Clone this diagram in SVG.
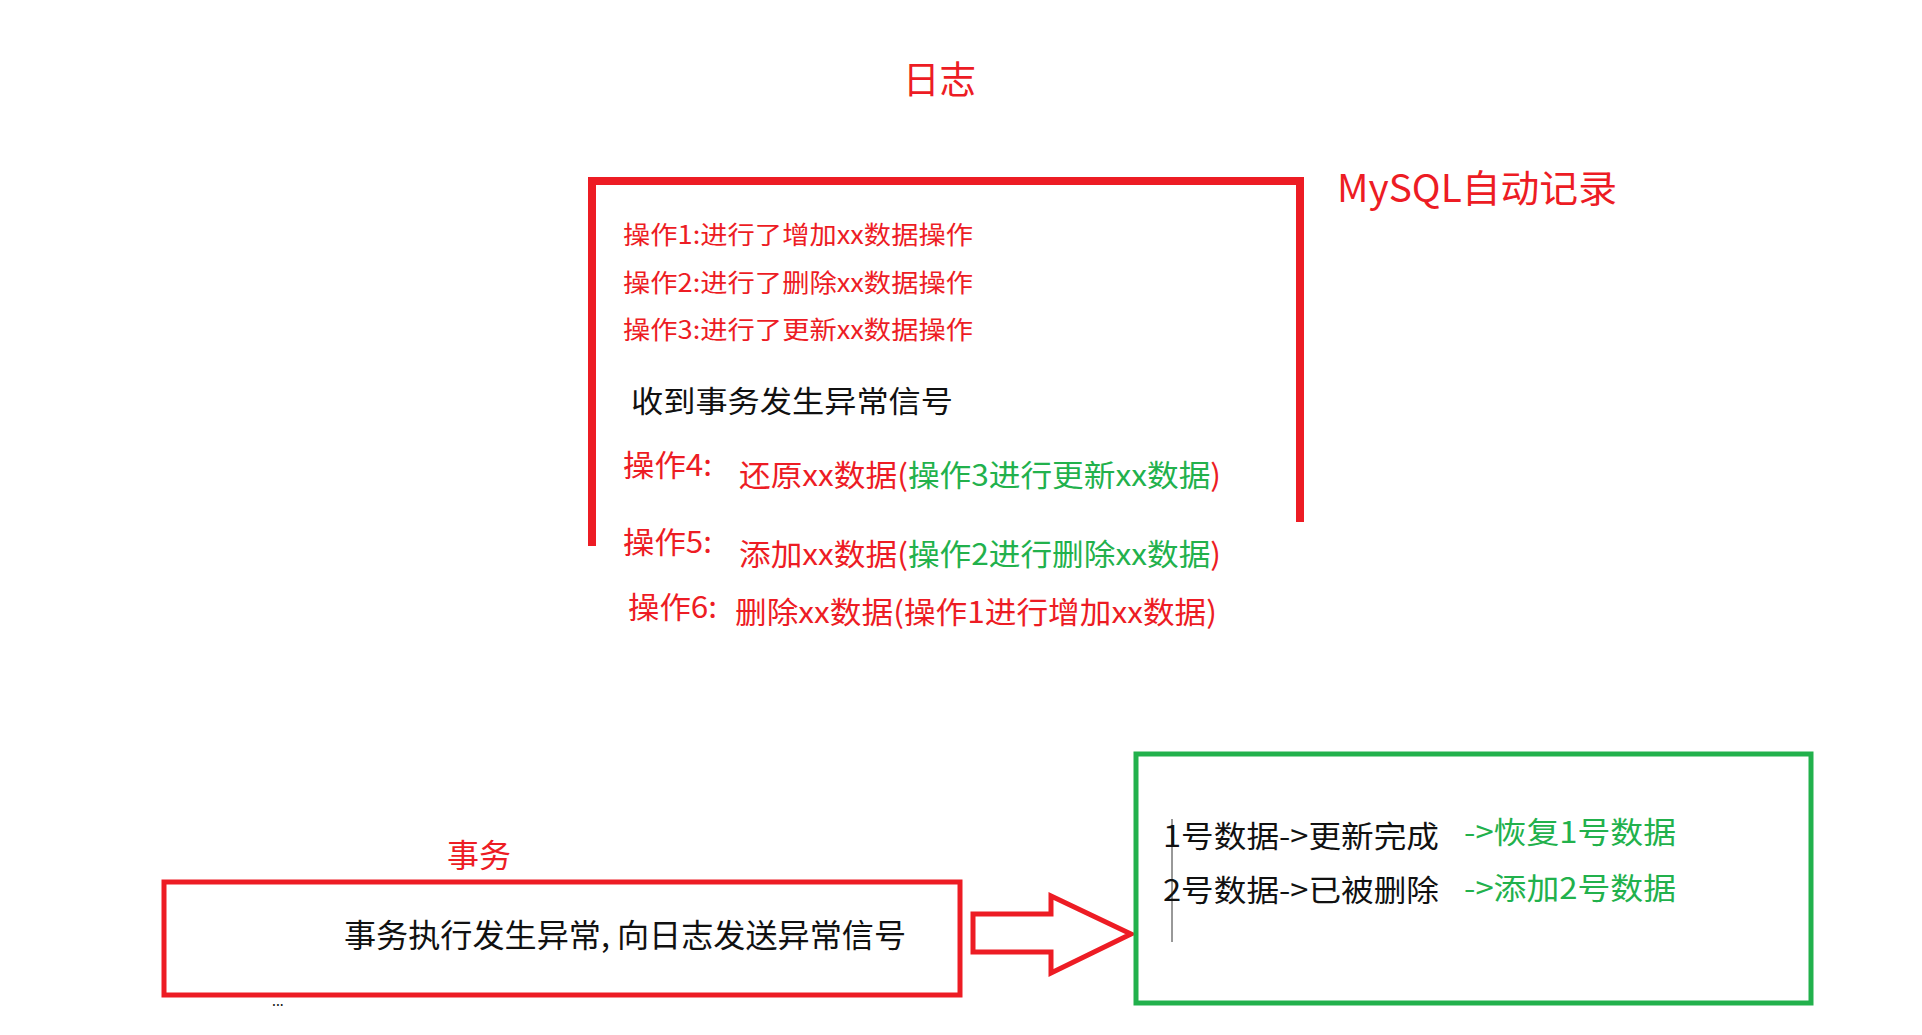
<svg xmlns="http://www.w3.org/2000/svg" width="1922" height="1035" viewBox="0 0 1922 1035">
<style>
text{font-family:"Noto Sans CJK SC","Liberation Sans",sans-serif;dominant-baseline:central}
.r{fill:#ed1c24}.g{fill:#22b14c}.k{fill:#111}
.s{font-size:25px}.m{font-size:30px}
</style>
<rect width="1922" height="1035" fill="#fff"/>
<g id="title"><text class="r" x="903" y="76" font-size="38" textLength="73" lengthAdjust="spacingAndGlyphs">日志</text></g>
<g id="log">
<path d="M592 546 V181 H1300 V522" fill="none" stroke="#ed1c24" stroke-width="8"/>
<text class="r" x="1337" y="185" font-size="38" textLength="280" lengthAdjust="spacingAndGlyphs">MySQL自动记录</text>
<text class="r s" x="623" y="233" textLength="350" lengthAdjust="spacingAndGlyphs">操作1:进行了增加xx数据操作</text>
<text class="r s" x="623" y="281" textLength="350" lengthAdjust="spacingAndGlyphs">操作2:进行了删除xx数据操作</text>
<text class="r s" x="623" y="328" textLength="350" lengthAdjust="spacingAndGlyphs">操作3:进行了更新xx数据操作</text>
<text class="k m" x="631" y="399" textLength="322" lengthAdjust="spacingAndGlyphs">收到事务发生异常信号</text>
<text class="r m" x="623" y="463" textLength="89" lengthAdjust="spacingAndGlyphs">操作4:</text>
<text class="m" x="739" y="473" textLength="482" lengthAdjust="spacingAndGlyphs"><tspan class="r">还原xx数据(</tspan><tspan class="g">操作3进行更新xx数据</tspan><tspan class="r">)</tspan></text>
<text class="r m" x="623" y="540" textLength="89" lengthAdjust="spacingAndGlyphs">操作5:</text>
<text class="m" x="739" y="552" textLength="482" lengthAdjust="spacingAndGlyphs"><tspan class="r">添加xx数据(</tspan><tspan class="g">操作2进行删除xx数据</tspan><tspan class="r">)</tspan></text>
<text class="r m" x="628" y="605" textLength="89" lengthAdjust="spacingAndGlyphs">操作6:</text>
<text class="r m" x="735" y="610" textLength="482" lengthAdjust="spacingAndGlyphs">删除xx数据(操作1进行增加xx数据)</text>
</g>
<g id="tx">
<text class="r" x="447" y="853" font-size="32" textLength="64" lengthAdjust="spacingAndGlyphs">事务</text>
<rect x="164" y="882" width="796" height="113" fill="none" stroke="#ed1c24" stroke-width="5"/>
<text class="k" x="344" y="933" font-size="32" textLength="562" lengthAdjust="spacingAndGlyphs">事务执行发生异常, 向日志发送异常信号</text>
<text class="k" x="272" y="1000" font-size="14">...</text>
</g>
<g id="connectors">
<path d="M973 914 H1051 V896 L1131 934 L1051 973 V952 H973 Z" fill="none" stroke="#ed1c24" stroke-width="5"/>
</g>
<g id="result">
<rect x="1136" y="754" width="675" height="249" fill="none" stroke="#22b14c" stroke-width="5"/>
<line x1="1172" y1="819" x2="1172" y2="942" stroke="#333" stroke-width="1"/>
<text class="k m" x="1163" y="834" textLength="276" lengthAdjust="spacingAndGlyphs">1号数据-&gt;更新完成</text>
<text class="g m" x="1464" y="830" textLength="212" lengthAdjust="spacingAndGlyphs">-&gt;恢复1号数据</text>
<text class="k m" x="1163" y="888" textLength="276" lengthAdjust="spacingAndGlyphs">2号数据-&gt;已被删除</text>
<text class="g m" x="1464" y="886" textLength="212" lengthAdjust="spacingAndGlyphs">-&gt;添加2号数据</text>
</g>
</svg>
